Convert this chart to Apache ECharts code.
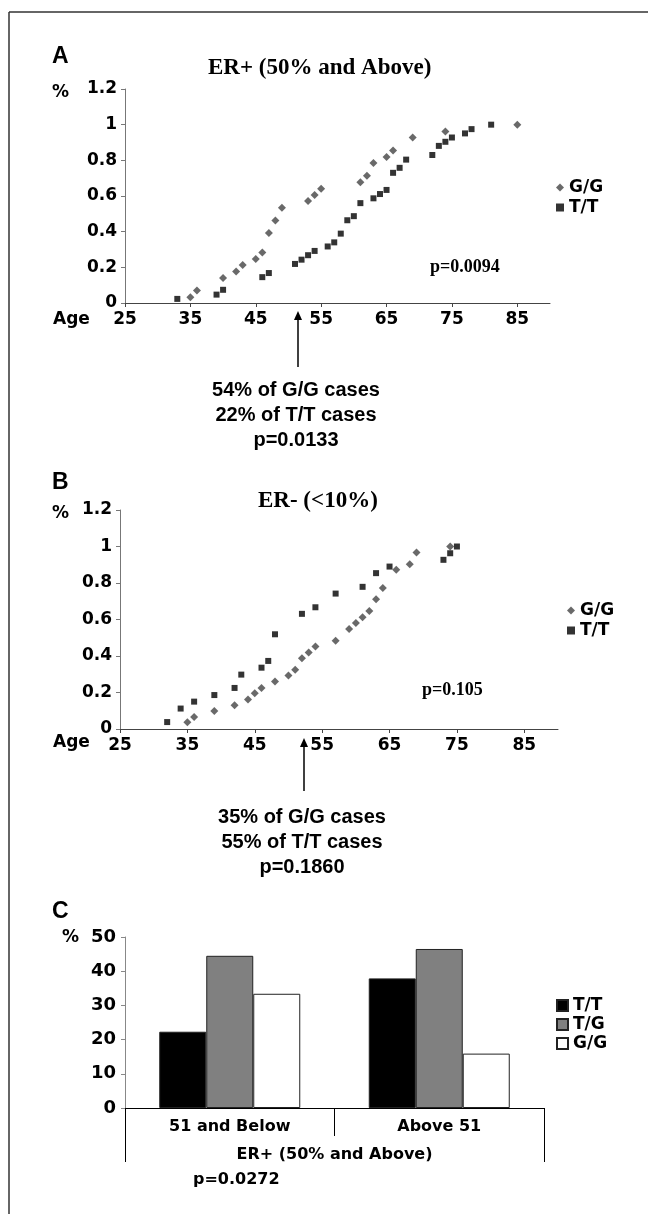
<!DOCTYPE html>
<html>
<head>
<meta charset="utf-8">
<script src="https://cdn.jsdelivr.net/npm/echarts@6/dist/echarts.min.js"></script>
<style>
  html, body { margin: 0; padding: 0; background: #fff; }
  #chart { width: 656px; height: 1214px; }
</style>
</head>
<body>
<div id="chart"></div>
<script>
// age axis ticks shared by panels A and B
const ageTicks = [25, 35, 45, 55, 65, 75, 85];

// panel A: ER+ (50% and above), cumulative fraction by age
const aGGAge = [35, 36, 40, 42, 43, 45, 46, 47, 48, 49, 53, 54, 55, 61, 62, 63, 65, 66, 69, 74, 85];
const aGGPct = [0.032, 0.07, 0.14, 0.177, 0.213, 0.247, 0.283, 0.392, 0.462, 0.534, 0.572, 0.606, 0.64, 0.677, 0.713, 0.785, 0.819, 0.855, 0.928, 0.962, 1.0];
const aTTAge = [33, 39, 40, 46, 47, 51, 52, 53, 54, 56, 57, 58, 59, 60, 61, 63, 64, 65, 66, 67, 68, 72, 73, 74, 75, 77, 78, 81];
const aTTPct = [0.023, 0.047, 0.074, 0.145, 0.168, 0.219, 0.243, 0.268, 0.292, 0.317, 0.34, 0.389, 0.464, 0.487, 0.56, 0.587, 0.611, 0.634, 0.73, 0.758, 0.804, 0.83, 0.881, 0.904, 0.928, 0.951, 0.975, 1.0];

// panel B: ER- (<10%)
const bGGAge = [35, 36, 39, 42, 44, 45, 46, 48, 50, 51, 52, 53, 54, 57, 59, 60, 61, 62, 63, 64, 66, 68, 69, 74];
const bGGPct = [0.037, 0.066, 0.099, 0.13, 0.161, 0.196, 0.225, 0.26, 0.293, 0.324, 0.388, 0.419, 0.452, 0.484, 0.548, 0.581, 0.612, 0.647, 0.711, 0.773, 0.872, 0.903, 0.967, 1.0];
const bTTAge = [32, 34, 36, 39, 42, 43, 46, 47, 48, 52, 54, 57, 61, 63, 65, 73, 74, 75];
const bTTPct = [0.038, 0.112, 0.15, 0.186, 0.225, 0.298, 0.336, 0.373, 0.519, 0.631, 0.667, 0.742, 0.779, 0.854, 0.89, 0.927, 0.963, 1.0];

// panel C: genotype share (%) by age group
const cGroups = ['51 and Below', 'Above 51'];
const cTT = [22.3, 37.9];
const cTG = [44.5, 46.5];
const cGG = [33.4, 15.9];

const zip = (xs, ys) => xs.map((x, i) => [x, ys[i]]);

const labelFont = { color: '#000', fontFamily: 'DejaVu Sans', fontWeight: 'bold', fontSize: 17 };
const serifBold = { fill: '#000', fontFamily: 'Liberation Serif', fontWeight: 'bold' };
const sansBold = { fill: '#000', fontFamily: 'Liberation Sans', fontWeight: 'bold' };

function ageAxis(grid) {
  return {
    type: 'value', gridIndex: grid, min: 25, max: 90,
    axisLine: { lineStyle: { color: '#444', width: 1 } },
    axisTick: { show: true, length: 4, customValues: ageTicks, lineStyle: { color: '#444' } },
    axisLabel: Object.assign({ margin: 8, customValues: ageTicks }, labelFont),
    splitLine: { show: false }
  };
}
function pctAxis(grid) {
  return {
    type: 'value', gridIndex: grid, min: 0, max: 1.2, interval: 0.2,
    axisLine: { show: true, lineStyle: { color: '#777', width: 1 } },
    axisTick: { show: true, length: 4, lineStyle: { color: '#777' } },
    axisLabel: Object.assign({ margin: 8 }, labelFont),
    splitLine: { show: false }
  };
}

const chart = echarts.init(document.getElementById('chart'), null, { renderer: 'canvas' });

const option = {
  animation: false,
  grid: [
    { left: 125, right: 106, top: 89, bottom: 911 },
    { left: 120, right: 98, top: 510, bottom: 485 },
    { left: 125, right: 112, top: 937, bottom: 106 }
  ],
  xAxis: [
    ageAxis(0),
    ageAxis(1),
    {
      type: 'category', gridIndex: 2, data: cGroups, position: 'bottom',
      axisLine: { show: true, lineStyle: { color: '#000', width: 1 } },
      axisTick: { show: true, alignWithLabel: false, interval: 0, length: 28, lineStyle: { color: '#000', width: 1 } },
      axisLabel: Object.assign({ margin: 11 }, labelFont, { fontSize: 16 })
    },
    {
      type: 'category', gridIndex: 2, data: ['ER+ (50% and Above)'], position: 'bottom',
      axisLine: { show: false },
      axisTick: { show: true, alignWithLabel: false, interval: 0, length: 54, lineStyle: { color: '#000', width: 1 } },
      axisLabel: Object.assign({ margin: 39 }, labelFont, { fontSize: 16 })
    }
  ],
  yAxis: [
    pctAxis(0),
    pctAxis(1),
    {
      type: 'value', gridIndex: 2, min: 0, max: 50, interval: 10,
      axisLine: { show: true, lineStyle: { color: '#888', width: 1 } },
      axisTick: { show: true, length: 4, lineStyle: { color: '#888' } },
      axisLabel: Object.assign({ margin: 9 }, labelFont, { fontSize: 18 }),
      splitLine: { show: false }
    }
  ],
  legend: [
    {
      data: ['A G/G', 'A T/T'], orient: 'vertical', left: 556, top: 179, padding: 0,
      itemWidth: 8, itemHeight: 8, itemGap: 3, selectedMode: false,
      formatter: n => n.slice(2),
      textStyle: Object.assign({ lineHeight: 17 }, labelFont)
    },
    {
      data: ['B G/G', 'B T/T'], orient: 'vertical', left: 567, top: 602, padding: 0,
      itemWidth: 8, itemHeight: 8, itemGap: 3, selectedMode: false,
      formatter: n => n.slice(2),
      textStyle: Object.assign({ lineHeight: 17 }, labelFont)
    },
    {
      data: ['C T/T', 'C T/G', 'C G/G'], orient: 'vertical', left: 556, top: 997, padding: 0,
      icon: 'rect', itemWidth: 11, itemHeight: 11, itemGap: 2, selectedMode: false,
      formatter: n => n.slice(2),
      textStyle: Object.assign({ lineHeight: 17 }, labelFont)
    }
  ],
  series: [
    { name: 'A G/G', type: 'scatter', xAxisIndex: 0, yAxisIndex: 0, data: zip(aGGAge, aGGPct),
      symbol: 'diamond', symbolSize: 8, itemStyle: { color: '#444' } },
    { name: 'A T/T', type: 'scatter', xAxisIndex: 0, yAxisIndex: 0, data: zip(aTTAge, aTTPct),
      symbol: 'rect', symbolSize: 6, itemStyle: { color: '#000' } },
    { name: 'B G/G', type: 'scatter', xAxisIndex: 1, yAxisIndex: 1, data: zip(bGGAge, bGGPct),
      symbol: 'diamond', symbolSize: 8, itemStyle: { color: '#444' } },
    { name: 'B T/T', type: 'scatter', xAxisIndex: 1, yAxisIndex: 1, data: zip(bTTAge, bTTPct),
      symbol: 'rect', symbolSize: 6, itemStyle: { color: '#000' } },
    { name: 'C T/T', type: 'bar', xAxisIndex: 2, yAxisIndex: 2, data: cTT, barWidth: 47, barGap: '0%',
      itemStyle: { color: '#000', borderColor: '#222', borderWidth: 1 } },
    { name: 'C T/G', type: 'bar', xAxisIndex: 2, yAxisIndex: 2, data: cTG, barWidth: 47, barGap: '0%',
      itemStyle: { color: '#808080', borderColor: '#222', borderWidth: 1 } },
    { name: 'C G/G', type: 'bar', xAxisIndex: 2, yAxisIndex: 2, data: cGG, barWidth: 47, barGap: '0%',
      itemStyle: { color: '#fff', borderColor: '#222', borderWidth: 1 } }
  ],
  graphic: [
    // frame
    { type: 'line', shape: { x1: 9, y1: 12, x2: 648, y2: 12 }, style: { stroke: '#333', lineWidth: 1.5 } },
    { type: 'line', shape: { x1: 9, y1: 12, x2: 9, y2: 1214 }, style: { stroke: '#333', lineWidth: 1.5 } },

    // panel A
    { type: 'text', left: 52, top: 45, style: Object.assign({ text: 'A', fontSize: 23 }, sansBold) },
    { type: 'text', left: 208, top: 57, style: Object.assign({ text: 'ER+ (50% and Above)', fontSize: 23 }, serifBold) },
    { type: 'text', left: 52, top: 84, style: { text: '%', fill: '#000', fontFamily: 'DejaVu Sans', fontWeight: 'bold', fontSize: 17 } },
    { type: 'text', left: 53, top: 311, style: { text: 'Age', fill: '#000', fontFamily: 'DejaVu Sans', fontWeight: 'bold', fontSize: 17 } },
    { type: 'text', left: 430, top: 258, style: Object.assign({ text: 'p=0.0094', fontSize: 18 }, serifBold) },
    { type: 'line', shape: { x1: 298, y1: 318, x2: 298, y2: 367 }, style: { stroke: '#000', lineWidth: 1.5 } },
    { type: 'polygon', shape: { points: [[298, 311], [294, 320], [302, 320]] }, style: { fill: '#000' } },
    { type: 'text', x: 296, y: 378, style: Object.assign({ text: '54% of G/G cases\n22% of T/T cases\np=0.0133', fontSize: 20, lineHeight: 25, align: 'center' }, sansBold) },

    // panel B
    { type: 'text', left: 52, top: 471, style: Object.assign({ text: 'B', fontSize: 23 }, sansBold) },
    { type: 'text', left: 258, top: 490, style: Object.assign({ text: 'ER- (<10%)', fontSize: 23 }, serifBold) },
    { type: 'text', left: 52, top: 505, style: { text: '%', fill: '#000', fontFamily: 'DejaVu Sans', fontWeight: 'bold', fontSize: 17 } },
    { type: 'text', left: 53, top: 734, style: { text: 'Age', fill: '#000', fontFamily: 'DejaVu Sans', fontWeight: 'bold', fontSize: 17 } },
    { type: 'text', left: 422, top: 681, style: Object.assign({ text: 'p=0.105', fontSize: 18 }, serifBold) },
    { type: 'line', shape: { x1: 304, y1: 745, x2: 304, y2: 791 }, style: { stroke: '#000', lineWidth: 1.5 } },
    { type: 'polygon', shape: { points: [[304, 738], [300, 747], [308, 747]] }, style: { fill: '#000' } },
    { type: 'text', x: 302, y: 805, style: Object.assign({ text: '35% of G/G cases\n55% of T/T cases\np=0.1860', fontSize: 20, lineHeight: 25, align: 'center' }, sansBold) },

    // panel C
    { type: 'text', left: 52, top: 900, style: Object.assign({ text: 'C', fontSize: 23 }, sansBold) },
    { type: 'text', left: 62, top: 929, style: { text: '%', fill: '#000', fontFamily: 'DejaVu Sans', fontWeight: 'bold', fontSize: 17 } },
    { type: 'text', left: 193, top: 1172, style: { text: 'p=0.0272', fill: '#000', fontFamily: 'DejaVu Sans', fontWeight: 'bold', fontSize: 16 } }
  ]
};

chart.setOption(option);
window.addEventListener('resize', () => chart.resize());
</script>
</body>
</html>
